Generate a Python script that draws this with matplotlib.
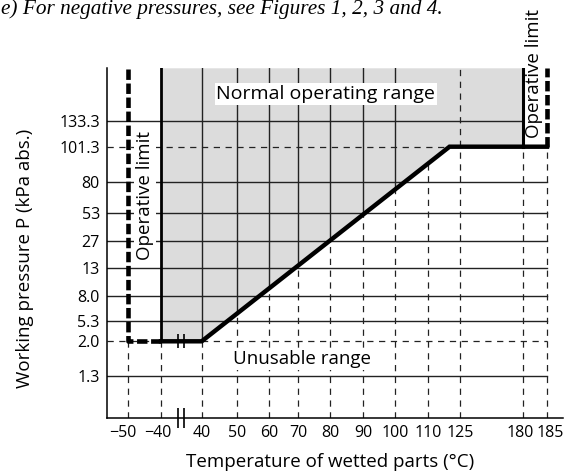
import numpy as np
import matplotlib.pyplot as plt
from matplotlib.transforms import ScaledTranslation

plt.rcParams['font.family'] = ['Open Sans', 'DejaVu Sans']
plt.rcParams['lines.scale_dashes'] = False

# ticks: temperature of wetted parts (°C) and working pressure (kPa abs.)
temps = [-50, -40, 40, 50, 60, 70, 80, 90, 100, 110, 125, 180, 185]
temp_labels = ['−50', '−40', '40', '50', '60', '70', '80', '90', '100', '110', '125', '180', '185']
pressures = [1.3, 2.0, 5.3, 8.0, 13, 27, 53, 80, 101.3, 133.3]
pressure_labels = ['1.3', '2.0', '5.3', '8.0', '13', '27', '53', '80', '101.3', '133.3']

# lower limit of the normal operating range
curve_t = [-40, 40, 120, 185]
curve_p = [2.0, 2.0, 101.3, 101.3]

# operative limits (dashed) and range limits (solid)
t_op_low, t_op_high = -50, 185
t_low, t_high = -40, 180

# the axes are not to scale: anchor values -> distance from the axes origin (px)
x_anchor_t = [-56.6, -50, -40, 40, 50, 60, 70, 80, 90, 100, 110, 125, 180, 185, 188.3]
x_anchor_px = [0, 21.6, 54.3, 95, 130, 162.6, 191.6, 223.3, 256.6, 288.3, 321.3, 353.6, 415.8, 440.3, 456.3]
y_anchor_p = [0, 1.3, 2.0, 5.3, 8.0, 13, 27, 53, 80, 101.3, 133.3, 200]
y_anchor_px = [0, 42.6, 77, 97.6, 122.8, 150, 177.6, 205, 236.3, 271.6, 297.6, 350]

# small horizontal nudges of some x tick labels (px), as in the original drawing
label_nudge = {-50: -5, -40: -3.5, 180: -2.5, 185: 3}


def fwd_x(t):
    return np.interp(t, x_anchor_t, x_anchor_px)


def inv_x(p):
    return np.interp(p, x_anchor_px, x_anchor_t)


def fwd_y(v):
    return np.interp(v, y_anchor_p, y_anchor_px)


def inv_y(p):
    return np.interp(p, y_anchor_px, y_anchor_p)


def lower_limit(t):
    # the limit line is straight on the drawing, so interpolate in drawn space
    return inv_y(np.interp(fwd_x(t), fwd_x(curve_t), fwd_y(curve_p)))


fig = plt.figure(figsize=(5.74, 4.73), dpi=100)
ax = fig.add_axes([106.7 / 574, 54.7 / 473, 456.3 / 574, 350 / 473])
ax.set_xscale('function', functions=(fwd_x, inv_x))
ax.set_yscale('function', functions=(fwd_y, inv_y))
ax.set_xlim(x_anchor_t[0], x_anchor_t[-1])
ax.set_ylim(y_anchor_p[0], y_anchor_p[-1])
y0, y1 = ax.get_ylim()
x0 = ax.get_xlim()[0]

thin = '#222222'
dash_thin = (0, (4.5, 4))
dash_thick = (0, (7.5, 2.6))

# normal operating range
ax.fill([t_low] + curve_t[:3] + [t_high, t_high, t_low],
        [curve_p[0]] + curve_p[:3] + [curve_p[-1], y1, y1],
        color='#dcdcdc', lw=0, zorder=1)

# vertical grid
for t in temps:
    yl = lower_limit(t)
    if t == 125:
        ax.plot([t, t], [y0, y1], color=thin, lw=0.9, ls=dash_thin, zorder=2)
        continue
    ax.plot([t, t], [y0, yl], color=thin, lw=0.9, ls=dash_thin, zorder=2)
    if 40 <= t <= 100:
        ax.plot([t, t], [yl, y1], color=thin, lw=1.0, zorder=2)

# horizontal grid
for p in pressures:
    if p == 2.0:
        ax.plot([x0, t_op_high], [p, p], color=thin, lw=0.9, ls=dash_thin, zorder=2)
    elif p == 101.3:
        ax.plot([x0, curve_t[2]], [p, p], color=thin, lw=0.9, ls=dash_thin, zorder=2)
    elif p == 133.3:
        ax.plot([x0, t_high], [p, p], color=thin, lw=1.0, zorder=2)
    else:
        ax.plot([x0, t_op_high], [p, p], color=thin, lw=1.0, zorder=2)

# labels inside the chart
box = dict(facecolor='white', edgecolor='none', pad=1.2)
ax.text(0.48, 0.927, 'Normal operating range', transform=ax.transAxes,
        ha='center', va='center', fontsize=14, bbox=box, zorder=3)
ax.text(0.428, 0.169, 'Unusable range', transform=ax.transAxes,
        ha='center', va='center', fontsize=13.5, bbox=box, zorder=3)
ax.text(0.084, 0.638, 'Operative limit', transform=ax.transAxes, rotation=90,
        ha='center', va='center', fontsize=13.5, bbox=box, zorder=3)
ax.text(0.936, 0.984, 'Operative limit', transform=ax.transAxes, rotation=90,
        ha='center', va='center', fontsize=13.5, zorder=3, clip_on=False)

# limit lines
ax.plot(curve_t, curve_p, color='black', lw=3.2, solid_joinstyle='miter', zorder=4)
ax.plot([t_low, t_low], [curve_p[0], y1], color='black', lw=2.0, zorder=4)
ax.plot([t_high, t_high], [curve_p[-1], y1], color='black', lw=2.2, zorder=4)
ax.plot([t_low, t_op_low, t_op_low], [curve_p[0], curve_p[0], y1],
        color='black', lw=3.3, ls=dash_thick, zorder=4)
ax.plot([t_op_high, t_op_high], [curve_p[-1], y1],
        color='black', lw=3.3, ls=dash_thick, zorder=4)

# axis break marks
ax.plot([-6, 6], [2.0, 2.0], ls='none', marker='|', ms=10, mew=1.2, color='black', zorder=5)
ax.plot([-6, 6], [y0, y0], ls='none', marker='|', ms=14, mew=1.2, color='black',
        zorder=5, clip_on=False)

ax.set_xticks(temps, temp_labels)
ax.set_yticks(pressures, pressure_labels)
ax.minorticks_off()
ax.tick_params(length=0, labelsize=11.5)
ax.tick_params(axis='x', pad=5)
ax.tick_params(axis='y', pad=5)
for t, lab in zip(temps, ax.get_xticklabels()):
    if t in label_nudge:
        lab.set_transform(lab.get_transform()
                          + ScaledTranslation(label_nudge[t] / 100, 0, fig.dpi_scale_trans))
for side in ['top', 'right']:
    ax.spines[side].set_visible(False)
for side in ['left', 'bottom']:
    ax.spines[side].set_linewidth(1.1)

fig.text(330 / 574, 1 - 462 / 473, 'Temperature of wetted parts (°C)',
         ha='center', va='center', fontsize=13.5)
fig.text(25 / 574, 1 - 258.5 / 473, 'Working pressure P (kPa abs.)',
         rotation=90, ha='center', va='center', fontsize=13.5)
fig.text(0.002, 1 - 14 / 473, 'e) For negative pressures, see Figures 1, 2, 3 and 4.',
         family='Liberation Serif', style='italic', fontsize=15.3, va='baseline')

fig.savefig('out.png', dpi=100)
